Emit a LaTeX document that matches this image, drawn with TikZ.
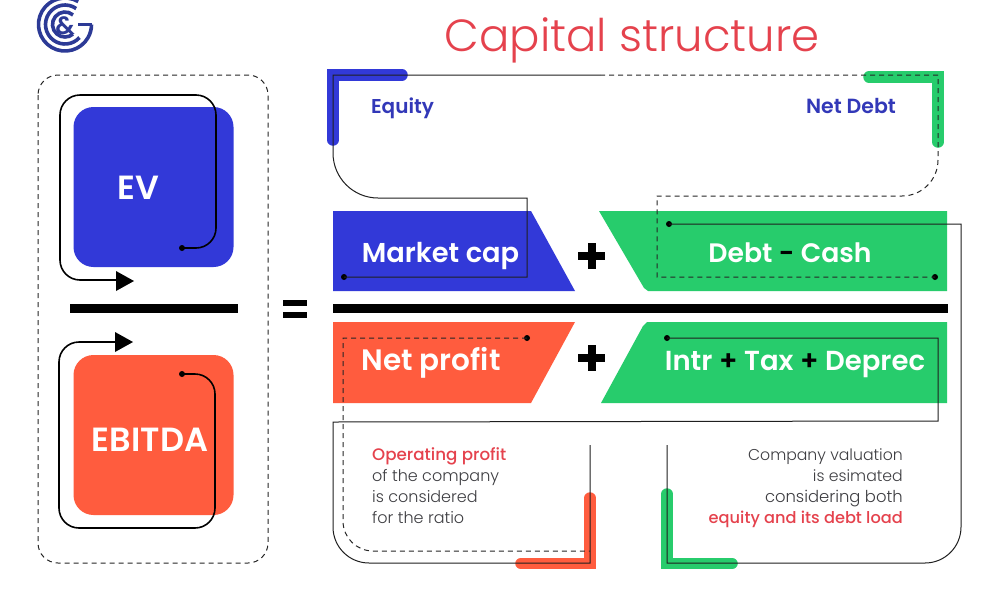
\documentclass[tikz,border=0pt]{standalone}
\usepackage{fontspec}
\setmainfont{Poppins}[UprightFont={* Regular},BoldFont={* SemiBold}]
\newfontfamily\lightf{Poppins Light}
\newfontfamily\medf{Poppins Medium}
\usetikzlibrary{arrows.meta}
\definecolor{cblue}{HTML}{3239D8}
\definecolor{cinkblue}{HTML}{3238B8}
\definecolor{cgreen}{HTML}{27CC6C}
\definecolor{corange}{HTML}{FF5C3E}
\definecolor{cred}{HTML}{E5424D}
\definecolor{clogo}{HTML}{2C3A96}
\definecolor{ctext}{HTML}{3E3E42}
\tikzset{
 x=1pt,y=-1pt,
 square/.style={rounded corners=20pt,minimum width=160pt,minimum height=160pt,inner sep=0pt},
 bigword/.style={inner sep=0pt,text=white,font=\fontsize{33.5}{33.5}\selectfont\bfseries},
 band/.style={inner sep=0pt,text=white,anchor=base},
 thinline/.style={draw=black!88,line width=1pt},
 dashline/.style={draw=black!85,line width=1pt,dash pattern=on 5pt off 4pt},
 loopline/.style={draw=black,line width=1.6pt,rounded corners=20pt},
 dotmark/.style={circle,fill=black,inner sep=0pt,minimum size=6pt},
 tag/.style={inner sep=0pt,text=cinkblue,anchor=base},
 note/.style={inner sep=0pt,text=ctext,font=\fontsize{16}{21}\lightf},
 bracket/.style={line width=11.5pt,line cap=round},
 barline/.style={fill=black},
}
\begin{document}
\begin{tikzpicture}
\useasboundingbox (0,0) rectangle (1000,600);
\fill[white] (0,0) rectangle (1000,600);
% logo
\begin{scope}[shift={(65,24.5)},y=1pt,draw=clogo,line width=3.6pt]
 \draw (60:26.5) arc[start angle=60,end angle=360,radius=26.5];
 \draw (55:19.5) arc[start angle=55,end angle=318,radius=19.5];
 \draw (26.5,0) -- (13,0);
 \draw (50:12.5) arc[start angle=50,end angle=310,radius=12.5];
\end{scope}
\node[inner sep=0pt,text=clogo,font=\fontsize{25}{25}\selectfont\bfseries] (amp) at (65,25.5) {\&};
% title
\node[inner sep=0pt,text=cred,font=\fontsize{45}{45}\lightf,anchor=base] (title) at (632,51) {Capital structure};
% left panel
\draw[dashline,rounded corners=20pt] (38,75) rectangle (268,563);
\node[square,fill=cblue] (ev) at (153.5,187) {};
\node[bigword] (evt) at (138,188) {EV};
\node[square,fill=corange] (ebitda) at (153.5,435) {};
\node[bigword] (ebitdat) at (150,440) {EBITDA};
\node[dotmark] (d1) at (182,248) {};
\coordinate (a1) at (118,280);
\draw[loopline] (d1.center) -- (216,248) -- (216,95) -- (60,95) -- (60,280) -- (a1);
\fill (116,271) -- (134,281) -- (116,291) -- cycle;
\node[dotmark] (d2) at (182,374) {};
\coordinate (a2) at (116,342);
\draw[loopline] (d2.center) -- (215,374) -- (215,528) -- (59,528) -- (59,342) -- (a2);
\fill (115,332) -- (133,342) -- (115,352) -- cycle;
\fill[barline] (70,304) rectangle (238,313);
% equals
\fill[barline] (283,300) rectangle (307,306);
\fill[barline] (283,312) rectangle (307,318);
% main bar
\fill[barline] (333,304) rectangle (948,313);
% bands
\fill[cblue] (333,211) -- (531,211) -- (575,291) -- (333,291) -- cycle;
\fill[cgreen] (599,211) -- (947,211) -- (947,291) -- (648,291) -- (644,288) -- cycle;
\fill[corange] (333,322) -- (575,322) -- (531,403) -- (333,403) -- cycle;
\fill[cgreen] (601,403) -- (643,326) -- (647,322) -- (947,322) -- (947,403) -- cycle;
\node[band,font=\fontsize{27.3}{28}\selectfont\bfseries] (mc) at (440.5,262) {Market cap};
\node[band,font=\fontsize{26.7}{28}\selectfont\bfseries] (dc) at (790,262) {Debt {\textcolor{black}{-}} Cash};
\node[band,font=\fontsize{29.5}{30}\selectfont\bfseries] (np) at (431,370) {Net profit};
\node[band,font=\fontsize{27.5}{28}\selectfont\bfseries] (itd) at (795,370) {Intr {\textcolor{black}{+}} Tax {\textcolor{black}{+}} Deprec};
% plus signs
\foreach \py in {256,358}{
 \fill[barline] (578,\py-4) rectangle (605,\py+4);
 \fill[barline] (587.5,\py-13) rectangle (595.5,\py+13);
}
% brackets
\draw[bracket,cblue] (402,75) -- (333,75) -- (333,140);
\draw[bracket,cgreen] (869,77) -- (938,77) -- (938,142);
\draw[bracket,corange] (521,563.5) -- (590,563.5) -- (590,498);
\draw[bracket,cgreen] (732,563.5) -- (667,563.5) -- (667,494);
% tags
\node[tag,font=\fontsize{20}{20}\selectfont\bfseries] (eq) at (402.5,113) {Equity};
\node[tag,font=\fontsize{20.5}{20}\selectfont\bfseries] (nd) at (851,113) {Net Debt};
% connectors
\node[dotmark] (d3) at (344,277) {};
\draw[thinline] (d3.center) -- (527,277) -- (527,198) -- (400,198) [rounded corners=45pt] -- (333,198) [sharp corners] -- (333,75) -- (600,75);
\node[dotmark] (d4) at (935,277) {};
\draw[dashline] (600,75) -- (938,75) [rounded corners=36pt] -- (938,196) [sharp corners] -- (657,196) -- (657,277) -- (d4.center);
\node[dotmark] (d5) at (669,224) {};
\draw[thinline] (d5.center) -- (961,224) [rounded corners=36pt] -- (961,563) [sharp corners] -- (667,563) -- (667,445);
\node[dotmark] (d6) at (667,338) {};
\draw[thinline] (d6.center) -- (938,338) -- (938,421) -- (333,422) [rounded corners=36pt] -- (333,563) [sharp corners] -- (590,563) -- (590,445);
\node[dotmark] (d7) at (527,338) {};
\draw[dashline] (d7.center) -- (343,338) [rounded corners=30pt] -- (343,551) [sharp corners] -- (590,551);
% notes
\node[note,anchor=base west,text=cred,font=\fontsize{16.7}{21}\medf] (n1) at (372,460) {Operating profit};
\node[note,anchor=base west] (n2) at (372,481) {of the company};
\node[note,anchor=base west] (n3) at (372,502) {is considered};
\node[note,anchor=base west] (n4) at (372,523) {for the ratio};
\node[note,anchor=base east,font=\fontsize{15.7}{21}\lightf] (n5) at (903,460) {Company valuation};
\node[note,anchor=base east,font=\fontsize{15.7}{21}\lightf] (n6) at (903,481) {is esimated};
\node[note,anchor=base east,font=\fontsize{16.4}{21}\lightf] (n7) at (903,502) {considering both};
\node[note,anchor=base east,text=cred,font=\fontsize{16.2}{21}\medf] (n8) at (903,523) {equity and its debt load};
\end{tikzpicture}
\end{document}
